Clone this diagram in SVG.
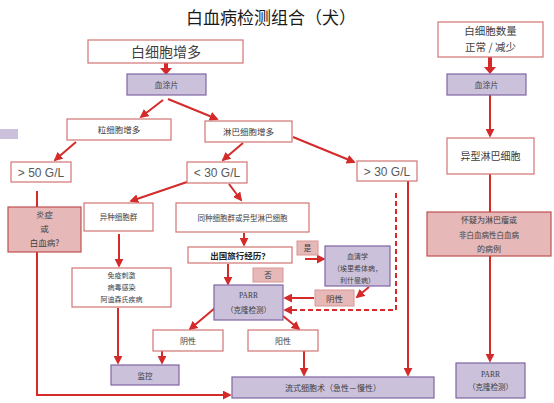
<svg xmlns="http://www.w3.org/2000/svg" width="554" height="403" viewBox="0 0 554 403">
<style>
.t{font-family:"Noto Sans CJK SC","Liberation Sans",sans-serif;fill:#404040;text-anchor:middle}
.g{font-family:"Liberation Sans","Noto Sans CJK SC",sans-serif;fill:#595959;text-anchor:middle;font-size:12px}
.w{fill:#ffffff;stroke:#d27474;stroke-width:1.2}
.p{fill:#ccc1da;stroke:#8064a2;stroke-width:1.2}
.k{fill:#e6b9b8;stroke:#c0504d;stroke-width:1.2}
.kl{fill:#e6b9b8;stroke:#d99594;stroke-width:1}
.c{fill:none;stroke:#d42a2a;stroke-width:2}
.a{marker-end:url(#ah)}
.d{stroke-dasharray:5 3}
</style>
<defs>
<marker id="ah" viewBox="0 0 10 10" refX="8" refY="5" markerWidth="9" markerHeight="9" markerUnits="userSpaceOnUse" orient="auto"><path d="M0,0 L10,5 L0,10 z" fill="#d42a2a"/></marker>
</defs>
<rect width="554" height="403" fill="#ffffff"/>
<text class="t" x="271" y="24" font-size="17" fill="#1a1a1a" style="fill:#1a1a1a">白血病检测组合（犬）</text>
<rect x="0" y="129" width="18" height="10" fill="#ccc1da"/>

<g id="connectors">
<polygon points="164,63 168,63 168,68 172,68 166,75 160,68 164,68" fill="#d42a2a"/>
<polygon points="488,57 492,57 492,67 496,67 490,74 484,67 488,67" fill="#d42a2a"/>
<line class="c a" x1="163" y1="100" x2="141" y2="117"/>
<line class="c a" x1="168" y1="99" x2="217" y2="119"/>
<line class="c a" x1="76" y1="142" x2="55" y2="160"/>
<line class="c a" x1="243" y1="143" x2="223" y2="160"/>
<line class="c a" x1="293" y1="137" x2="354" y2="162"/>
<line class="c" x1="37" y1="191" x2="37" y2="207"/>
<polyline class="c a" points="37,252 37,395 230,395"/>
<line class="c a" x1="187" y1="182" x2="131" y2="201"/>
<line class="c a" x1="229" y1="184" x2="241" y2="200"/>
<line class="c a" x1="119" y1="234" x2="119" y2="266"/>
<line class="c a" x1="118" y1="308" x2="118" y2="363"/>
<line class="c a" x1="244" y1="233" x2="244" y2="245"/>
<line class="c a" x1="228" y1="264" x2="228" y2="284"/>
<line class="c a" x1="305" y1="259" x2="324" y2="259"/>
<line class="c a" x1="369" y1="287" x2="357" y2="297"/>
<line class="c a" x1="314" y1="298" x2="285" y2="298"/>
<polyline class="c d a" points="396,193 396,310 285,310"/>
<line class="c a" x1="408" y1="181" x2="408" y2="375"/>
<line class="c a" x1="215" y1="308" x2="190" y2="329"/>
<line class="c a" x1="283" y1="316" x2="299" y2="329"/>
<line class="c a" x1="162" y1="351" x2="162" y2="363"/>
<line class="c a" x1="304" y1="351" x2="304" y2="375"/>
<line class="c a" x1="490" y1="95" x2="490" y2="136"/>
<line class="c" x1="490" y1="174" x2="490" y2="212"/>
<line class="c a" x1="490" y1="256" x2="490" y2="361"/>
</g>

<g id="n-wbc-up"><rect class="w" x="88" y="40" width="155" height="23"/><text class="t" x="166" y="56.5" font-size="14">白细胞增多</text></g>
<g id="n-smear1"><rect class="p" x="127" y="74" width="79" height="21"/><text class="t" x="166.5" y="88" font-size="8">血涂片</text></g>
<g id="n-gran"><rect class="w" x="67" y="119" width="104" height="21"/><text class="t" x="119" y="133" font-size="8.5">粒细胞增多</text></g>
<g id="n-lymph"><rect class="w" x="205" y="121" width="87" height="21"/><text class="t" x="248.5" y="135" font-size="8.5">淋巴细胞增多</text></g>
<g id="n-gt50"><rect class="w" x="11" y="162" width="60" height="20"/><text class="g" x="41" y="176.5">&gt; 50 G/L</text></g>
<g id="n-lt30"><rect class="w" x="187" y="162" width="60" height="21"/><text class="g" x="217" y="177">&lt; 30 G/L</text></g>
<g id="n-gt30"><rect class="w" x="357" y="161" width="60" height="20"/><text class="g" x="387" y="175.5">&gt; 30 G/L</text></g>
<g id="n-inflam"><rect class="k" x="8" y="207" width="73" height="45"/><text class="t" x="44.5" y="218" font-size="8.5">炎症</text><text class="t" x="44.5" y="232" font-size="8.5">或</text><text class="t" x="44.5" y="246" font-size="8.5">白血病?</text></g>
<g id="n-hetero"><rect class="w" x="84" y="203" width="69" height="28"/><text class="t" x="118.5" y="220" font-size="7.5">异种细胞群</text></g>
<g id="n-homo"><rect class="w" x="176" y="203" width="133" height="29"/><text class="t" x="242.5" y="220.5" font-size="7.5">同种细胞群或异型淋巴细胞</text></g>
<g id="n-travel"><rect class="w" x="188" y="247" width="104" height="16"/><text class="t" x="240" y="258.5" font-size="8.5" font-weight="bold" style="fill:#222222">出国旅行经历？</text></g>
<g id="n-yes"><rect class="kl" x="297" y="241" width="21" height="14"/><text class="t" x="307.5" y="251" font-size="7.5">是</text></g>
<g id="n-no"><rect class="kl" x="253" y="268" width="30" height="14"/><text class="t" x="268" y="278" font-size="7.5">否</text></g>
<g id="n-sero"><rect class="p" x="325" y="246" width="65" height="40"/><text class="t" x="357.5" y="258.5" font-size="7">血清学</text><text class="t" x="357.5" y="270.5" font-size="7">（埃里希体病，</text><text class="t" x="357.5" y="282.5" font-size="7">利什曼病）</text></g>
<g id="n-neg-sero"><rect class="kl" x="315" y="290" width="39" height="16"/><text class="t" x="334.5" y="301.5" font-size="8.5">阴性</text></g>
<g id="n-parr1"><rect class="p" x="214" y="285" width="69" height="35"/><text class="t" x="248.5" y="298" font-size="7.5" style="font-family:'Liberation Serif',serif;fill:#404040">PARR</text><text class="t" x="248.5" y="313" font-size="7.5">（克隆检测）</text></g>
<g id="n-immune"><rect class="w" x="72" y="268" width="99" height="39"/><text class="t" x="121.5" y="278" font-size="7">免疫刺激</text><text class="t" x="121.5" y="290" font-size="7">病毒感染</text><text class="t" x="121.5" y="302" font-size="7">阿迪森氏疾病</text></g>
<g id="n-neg"><rect class="w" x="153" y="330" width="70" height="21"/><text class="t" x="188" y="344" font-size="8">阴性</text></g>
<g id="n-pos"><rect class="w" x="248" y="330" width="70" height="21"/><text class="t" x="283" y="344" font-size="8">阳性</text></g>
<g id="n-monitor"><rect class="p" x="111" y="365" width="68" height="20"/><text class="t" x="145" y="378.5" font-size="7.5">监控</text></g>
<g id="n-flow"><rect class="p" x="232" y="377" width="202" height="21"/><text class="t" x="333" y="391" font-size="8">流式细胞术（急性－慢性）</text></g>
<g id="n-wbc-norm"><rect class="w" x="438" y="22" width="105" height="35"/><text class="t" x="490.5" y="35" font-size="10.5">白细胞数量</text><text class="t" x="490.5" y="51" font-size="10.5">正常 / 减少</text></g>
<g id="n-smear2"><rect class="p" x="447" y="74" width="79" height="21"/><text class="t" x="486.5" y="88" font-size="8">血涂片</text></g>
<g id="n-atyp"><rect class="w" x="447" y="138" width="87" height="36"/><text class="t" x="490.5" y="160" font-size="10">异型淋巴细胞</text></g>
<g id="n-suspect"><rect class="k" x="427" y="212" width="124" height="44"/><text class="t" x="489" y="223" font-size="8">怀疑为淋巴瘤或</text><text class="t" x="489" y="238" font-size="7.5">非白血病性白血病</text><text class="t" x="489" y="252" font-size="8">的病例</text></g>
<g id="n-parr2"><rect class="p" x="456" y="363" width="69" height="35"/><text class="t" x="490.5" y="377" font-size="7.5" style="font-family:'Liberation Serif',serif;fill:#404040">PARR</text><text class="t" x="490.5" y="390" font-size="7.5">（克隆检测）</text></g>
</svg>
